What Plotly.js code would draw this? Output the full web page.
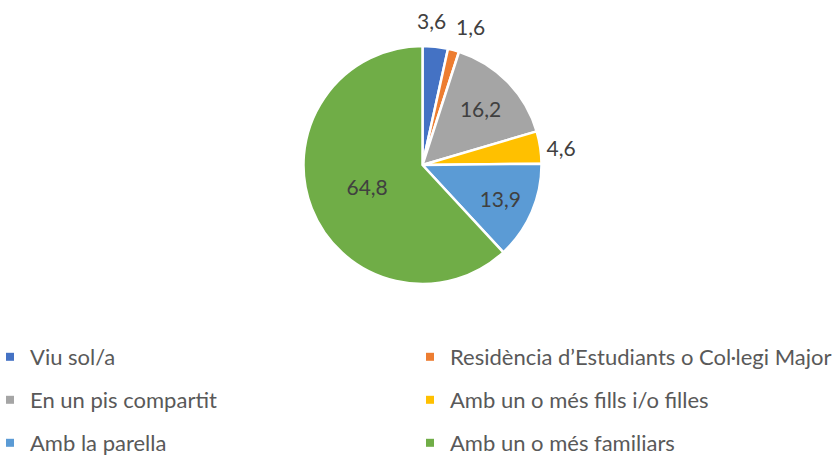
<!DOCTYPE html>
<html><head><meta charset="utf-8">
<script src="https://cdn.plot.ly/plotly-3.0.1.min.js"></script>
<style>html,body{margin:0;padding:0;background:#fff}</style>
</head><body>
<div id="chart" style="width:840px;height:461px"></div>
<script>
const categories = ["Viu sol/a", "Residència d\u2019Estudiants o Col·legi Major", "En un pis compartit", "Amb un o més fills i/o filles", "Amb la parella", "Amb un o més familiars"];
const values = [3.6, 1.6, 16.2, 4.6, 13.9, 64.8];
const colors = ["#4472C4", "#ED7D31", "#A5A5A5", "#FFC000", "#5B9BD5", "#70AD47"];
const textPositions = ["none", "none", "inside", "outside", "inside", "inside"];
// labels of the two thinnest slices, placed above the pie (pixel positions)
const smallLabelIdx = [0, 1];
const smallLabelPos = [[432, 21], [470, 26]];

const FONT = "Lato, 'Open Sans', sans-serif";
const W = 840, H = 461;
const traces = [{
  type: "pie",
  labels: categories,
  values: values,
  sort: false,
  direction: "clockwise",
  rotation: 0,
  marker: {colors: colors, line: {color: "#ffffff", width: 2.5}},
  texttemplate: "%{value:.1f}",
  textposition: textPositions,
  textfont: {family: FONT, size: 21, color: "#404040"},
  insidetextorientation: "horizontal",
  showlegend: false,
  hoverinfo: "none",
  domain: {x: [303 / W, 542 / W], y: [177 / H, 415 / H]}
}];
// legend grid: two columns, three rows (reading order left-to-right)
const colX = [0, 420];
const rowY = [357, 400, 443];
const layout = {
  width: W, height: H,
  margin: {l: 0, r: 0, t: 0, b: 0, autoexpand: false},
  separators: ",.",
  paper_bgcolor: "#ffffff", plot_bgcolor: "#ffffff",
  xaxis: {visible: false}, yaxis: {visible: false},
  showlegend: true
};
categories.forEach((c, i) => {
  const lid = i === 0 ? "legend" : "legend" + (i + 1);
  traces.push({
    type: "scatter", mode: "markers", x: [null], y: [null], name: c,
    marker: {symbol: "square", size: 8, color: colors[i]},
    legend: lid, showlegend: true, hoverinfo: "none"
  });
  layout[lid] = {orientation: "h", x: colX[i % 2] / W, y: 1 - rowY[Math.floor(i / 2)] / H,
    xanchor: "left", yanchor: "middle", indentation: -10,
    font: {family: FONT, size: 22, color: "#595959"},
    bgcolor: "rgba(0,0,0,0)", itemclick: false};
});
layout.annotations = smallLabelIdx.map((k, j) => ({
  xref: "paper", yref: "paper", x: smallLabelPos[j][0] / W, y: 1 - smallLabelPos[j][1] / H,
  xanchor: "center", yanchor: "middle", showarrow: false,
  text: values[k].toFixed(1).replace(".", ","),
  font: {family: FONT, size: 21, color: "#404040"}
}));
Plotly.newPlot("chart", traces, layout, {displayModeBar: false, staticPlot: true});
</script>
</body></html>
